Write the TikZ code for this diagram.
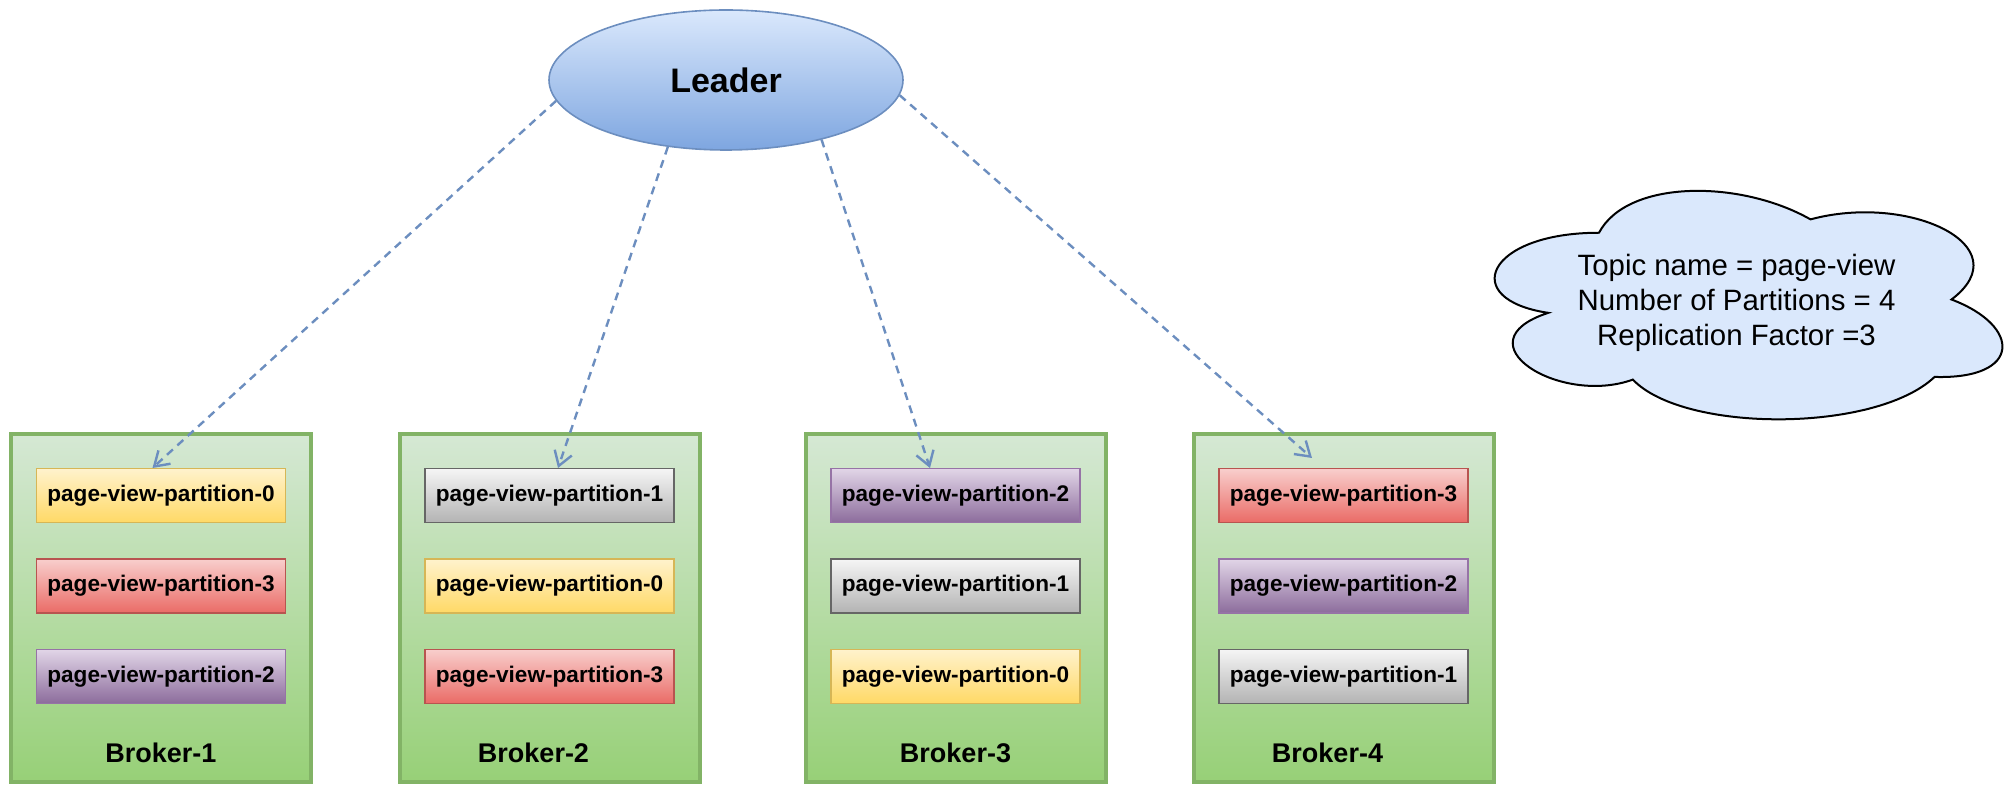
\documentclass[tikz,border=0pt]{standalone}
\usepackage{fontspec}
\setmainfont{Liberation Sans}
\usetikzlibrary{positioning}
\usetikzlibrary{arrows.meta}
\usetikzlibrary{shapes.geometric}
\definecolor{gline}{HTML}{82B366}
\definecolor{gtop}{HTML}{D5E8D4}
\definecolor{gbot}{HTML}{97D077}
\definecolor{yline}{HTML}{D6B656}
\definecolor{ytop}{HTML}{FFF2CC}
\definecolor{ybot}{HTML}{FFD966}
\definecolor{rline}{HTML}{B85450}
\definecolor{rtop}{HTML}{F8CECC}
\definecolor{rbot}{HTML}{EA6B66}
\definecolor{vline}{HTML}{9673A6}
\definecolor{vtop}{HTML}{E1D5E7}
\definecolor{vbot}{HTML}{8C6C9C}
\definecolor{kline}{HTML}{666666}
\definecolor{ktop}{HTML}{F5F5F5}
\definecolor{kbot}{HTML}{B3B3B3}
\definecolor{bline}{HTML}{6C8EBF}
\definecolor{btop}{HTML}{DAE8FC}
\definecolor{bbot}{HTML}{7EA6E0}
\tikzset{leader/.style = {ellipse, draw=bline, line width=0.8pt, top color=btop, bottom color=bbot,
    minimum width=177pt, minimum height=70pt, inner sep=0, font=\bfseries\fontsize{17}{20}\selectfont}}
\tikzset{broker/.style = {draw=gline, line width=2pt, top color=gtop, bottom color=gbot,
    minimum width=150pt, minimum height=174pt, inner sep=0}}
\tikzset{blabel/.style = {font=\bfseries\fontsize{13.5}{16}\selectfont}}
\tikzset{part/.style = {minimum width=124.5pt, minimum height=27pt, inner sep=0, line width=0.7pt,
    font=\bfseries\fontsize{11.3}{13}\selectfont}}
\tikzset{pyellow/.style = {part, draw=yline, top color=ytop, bottom color=ybot}}
\tikzset{pred/.style = {part, draw=rline, top color=rtop, bottom color=rbot}}
\tikzset{pviolet/.style = {part, draw=vline, top color=vtop, bottom color=vbot}}
\tikzset{pgrey/.style = {part, draw=kline, top color=ktop, bottom color=kbot}}
\tikzset{link/.style = {draw=bline, line width=1.2pt, dash pattern=on 4pt off 3pt,
    -{Straight Barb[length=7pt, width=9pt]}}}
\tikzset{topictext/.style = {align=center, inner sep=0, font=\fontsize{14.7}{17.5}\selectfont}}

\begin{document}
\begin{tikzpicture}[x=0.5pt, y=-0.5pt]
    \useasboundingbox (0,0) rectangle (2013,785);

    \node [leader] (leader) at (726,80) {Leader};

    \node [broker] (b1) at (161,608) {};
    \node [broker] (b2) at (549.5,608) {};
    \node [broker] (b3) at (955.5,608) {};
    \node [broker] (b4) at (1343.5,608) {};

    \node [pyellow, below=18pt of b1.north] (p1a) {page-view-partition-0};
    \node [pred, below=17.5pt of p1a] (p1b) {page-view-partition-3};
    \node [pviolet, below=17.5pt of p1b] (p1c) {page-view-partition-2};
    \node [pgrey, below=18pt of b2.north] (p2a) {page-view-partition-1};
    \node [pyellow, below=17.5pt of p2a] (p2b) {page-view-partition-0};
    \node [pred, below=17.5pt of p2b] (p2c) {page-view-partition-3};
    \node [pviolet, below=18pt of b3.north] (p3a) {page-view-partition-2};
    \node [pgrey, below=17.5pt of p3a] (p3b) {page-view-partition-1};
    \node [pyellow, below=17.5pt of p3b] (p3c) {page-view-partition-0};
    \node [pred, below=18pt of b4.north] (p4a) {page-view-partition-3};
    \node [pviolet, below=17.5pt of p4a] (p4b) {page-view-partition-2};
    \node [pgrey, below=17.5pt of p4b] (p4c) {page-view-partition-1};

    \node [blabel] (l1) at ([yshift=15.5pt]b1.south) {Broker-1};
    \node [blabel] (l2) at ([xshift=-8pt, yshift=15.5pt]b2.south) {Broker-2};
    \node [blabel] (l3) at ([yshift=15.5pt]b3.south) {Broker-3};
    \node [blabel] (l4) at ([xshift=-8pt, yshift=15.5pt]b4.south) {Broker-4};

    \draw [link] (leader.187) -- ([xshift=-4.25pt]p1a.north);
    \draw [link] (leader.229) -- ([xshift=4.25pt]p2a.north);
    \draw [link] (leader.328) -- ([xshift=-12.75pt]p3a.north);
    \draw [link] (leader.355) -- ([xshift=-15.75pt, yshift=5pt]p4a.north);

    % cloud with the topic settings
    \begin{scope}[shift={(1458,166)}, xscale=564, yscale=267]
        \draw [black, line width=1pt, fill=btop] (.25,.25) .. controls (.05,.25) and (0,.5) .. (.16,.55)
            .. controls (0,.66) and (.18,.9) .. (.31,.8) .. controls (.4,1) and (.74,1) .. (.845,.79)
            .. controls (1,.8) and (1,.6) .. (.875,.5) .. controls (1,.3) and (.8,.1) .. (.625,.2)
            .. controls (.5,.05) and (.3,.05) .. (.25,.25) -- cycle;
    \end{scope}
    \node [topictext] (topic) at (1736.5,302.5)
        {Topic name = page-view\\Number of Partitions = 4\\Replication Factor =3};
\end{tikzpicture}
\end{document}
